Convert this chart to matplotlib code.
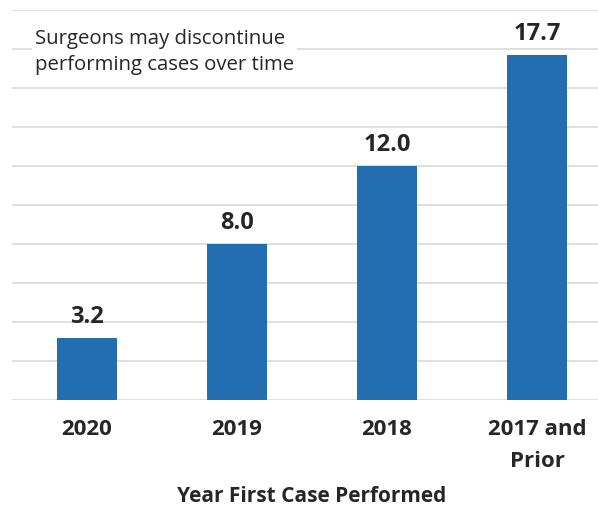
import matplotlib
matplotlib.use('Agg')
import matplotlib.pyplot as plt

# data
categories = ['2020', '2019', '2018', '2017 and\nPrior']
values = [3.2, 8.0, 12.0, 17.7]
value_labels = ['3.2', '8.0', '12.0', '17.7']

bar_color = '#236EB0'
text_color = '#262626'
grid_color = '#D9D9D9'

plt.rcParams['font.family'] = ['Open Sans', 'DejaVu Sans']

fig = plt.figure(figsize=(5.98, 5.07), dpi=100)
ax = fig.add_axes([12 / 598, 1 - 400 / 507, 1 - 12 / 598, 390 / 507])

x = range(len(categories))
bars = ax.bar(x, values, width=0.4, color=bar_color, zorder=3)

# value labels above the bars
for b, lab in zip(bars, value_labels):
    ax.annotate(lab, (b.get_x() + b.get_width() / 2, b.get_height()),
                xytext=(0, 6.5), textcoords='offset points',
                ha='center', va='bottom', fontsize=17, fontweight='bold',
                color=text_color)

ax.set_ylim(0, 20)
ax.set_xlim(-0.5, 3.5 - 14 / 150)
ax.set_yticks(range(0, 21, 2))
ax.set_yticklabels([])
ax.yaxis.grid(True, color=grid_color, linewidth=1.2, zorder=0)
ax.set_axisbelow(True)
ax.tick_params(axis='y', length=0)
ax.tick_params(axis='x', length=0, pad=14)
ax.set_xticks(list(x))
ax.set_xticklabels(categories, fontsize=16, fontweight='bold', color=text_color,
                   linespacing=1.65)
for s in ax.spines.values():
    s.set_visible(False)

# axis title
fig.text(312 / 598, 1 - 496 / 507, 'Year First Case Performed', ha='center', va='center',
         fontsize=15, fontweight='bold', color=text_color)

# note in the upper left
fig.text(35 / 598, 1 - 52 / 507, 'Surgeons may discontinue\nperforming cases over time',
         ha='left', va='center', fontsize=14.7, color=text_color, linespacing=1.45,
         bbox=dict(facecolor='white', edgecolor='none', pad=2))

fig.savefig('out.png', dpi=100)
